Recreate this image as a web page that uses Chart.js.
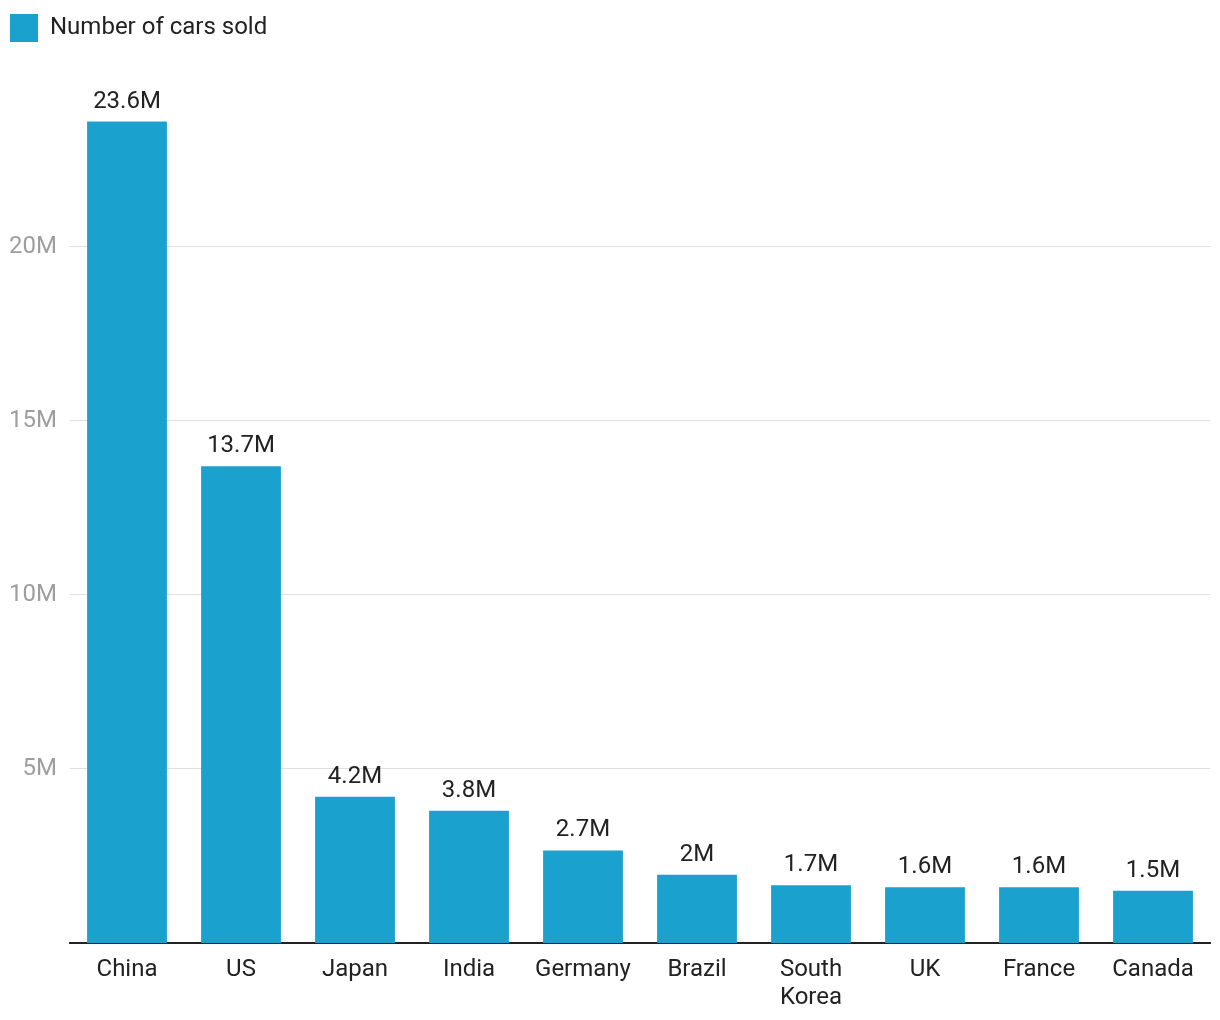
<!DOCTYPE html>
<html>
<head>
<meta charset="utf-8">
<script src="https://cdn.jsdelivr.net/npm/chart.js@4"></script>
<style>
  body { margin: 0; background: #fff; }
  #wrap { width: 1220px; height: 1020px; }
</style>
</head>
<body>
<div id="wrap"><canvas id="chart"></canvas></div>
<script>
// data (millions of cars)
const countries = ['China', 'US', 'Japan', 'India', 'Germany', 'Brazil', ['South', 'Korea'], 'UK', 'France', 'Canada'];
const carsSold = [23.6, 13.7, 4.2, 3.8, 2.66, 1.96, 1.66, 1.6, 1.6, 1.5];
const yTicks = [5, 10, 15, 20];

const barColor = '#1aa1cd';

function fmtM(v) {
    return (Math.round(v * 10) / 10) + 'M';
}

// draws the value above each bar
const valueLabels = {
    id: 'valueLabels',
    afterDatasetsDraw: function(chart) {
        var ctx = chart.ctx;
        var meta = chart.getDatasetMeta(0);
        ctx.save();
        ctx.font = '24px Roboto';
        ctx.fillStyle = '#222';
        ctx.textAlign = 'center';
        ctx.textBaseline = 'bottom';
        meta.data.forEach(function(bar, i) {
            ctx.fillText(fmtM(carsSold[i]), bar.x, bar.y - 8);
        });
        ctx.restore();
    }
};

new Chart(document.getElementById('chart'), {
    type: 'bar',
    data: {
        labels: countries,
        datasets: [{
            label: 'Number of cars sold',
            data: carsSold,
            backgroundColor: barColor,
            barPercentage: 0.7,
            categoryPercentage: 1.0
        }]
    },
    options: {
        responsive: true,
        maintainAspectRatio: false,
        animation: false,
        layout: { padding: { left: 0, right: 10, top: 4, bottom: 0 } },
        plugins: {
            legend: {
                position: 'top',
                align: 'start',
                labels: {
                    boxWidth: 28,
                    boxHeight: 28,
                    padding: 10,
                    color: '#222',
                    font: { family: 'Roboto', size: 24 }
                }
            },
            tooltip: { enabled: false }
        },
        scales: {
            x: {
                afterFit: function(scale) { scale.height = 77; },
                grid: { display: false, drawTicks: false },
                border: { display: true, color: '#222', width: 2 },
                ticks: {
                    color: '#222',
                    font: { family: 'Roboto', size: 24, lineHeight: 1.17 },
                    padding: 13,
                    maxRotation: 0,
                    autoSkip: false
                }
            },
            y: {
                min: 0,
                max: 25.6,
                afterBuildTicks: function(scale) {
                    scale.ticks = yTicks.map(function(v) { return { value: v }; });
                },
                afterFit: function(scale) { scale.width = 70; },
                grid: { color: '#e0e0e0', lineWidth: 1, drawTicks: false },
                border: { display: false },
                ticks: {
                    color: '#9e9e9e',
                    font: { family: 'Roboto', size: 24 },
                    padding: 13,
                    callback: function(v) { return v + 'M'; }
                }
            }
        }
    },
    plugins: [valueLabels]
});
</script>
</body>
</html>
